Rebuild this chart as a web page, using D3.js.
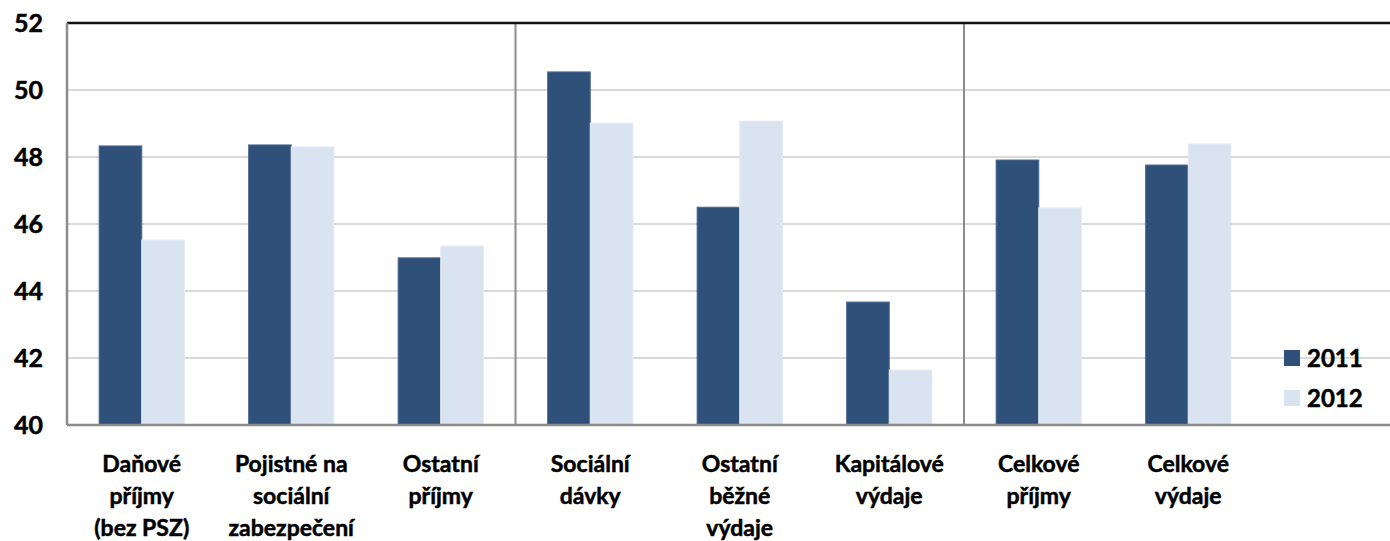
<!DOCTYPE html>
<html>
<head>
<meta charset="utf-8">
<script src="https://cdn.jsdelivr.net/npm/d3@7"></script>
<style>
  body { margin: 0; background: #fff; }
  svg text { font-family: Lato, "Open Sans", sans-serif; font-weight: bold; fill: #000;
             stroke: #000; stroke-width: 0.5px; }
</style>
</head>
<body>
<div id="chart"></div>
<script>
// categories, each label split in lines as in the original
const categories = ["Daňové příjmy", "Pojistné", "Ostatní příjmy", "Sociální dávky",
                    "Ostatní běžné výdaje", "Kapitálové výdaje", "Celkové příjmy", "Celkové výdaje"];
const catLines = [["Daňové", "příjmy", "(bez PSZ)"], ["Pojistné na", "sociální", "zabezpečení"],
                  ["Ostatní", "příjmy"], ["Sociální", "dávky"], ["Ostatní", "běžné", "výdaje"],
                  ["Kapitálové", "výdaje"], ["Celkové", "příjmy"], ["Celkové", "výdaje"]];
const years = ["2011", "2012"];
const values2011 = [48.33, 48.36, 44.99, 50.54, 46.5, 43.67, 47.91, 47.76];
const values2012 = [45.52, 48.3, 45.34, 49.01, 49.07, 41.64, 46.48, 48.39];
const yTicks = [40, 42, 44, 46, 48, 50, 52];
const separatorsAfter = ["Ostatní příjmy", "Kapitálové výdaje"];

const W = 1390, H = 541;
const margin = {top: 23, right: 0, bottom: 116, left: 67};
const colors = {"2011": "#2f5078", "2012": "#dae3f0"};

const svg = d3.select("#chart").append("svg")
    .attr("width", W).attr("height", H);

// one empty slot at the end holds the legend
const x = d3.scaleBand()
    .domain(categories.concat(["_legend"]))
    .range([margin.left, margin.left + 9 * 149.5])
    .paddingInner(0.43).paddingOuter(0.215);
const x1 = d3.scaleBand().domain(years).range([0, x.bandwidth()]);
const y = d3.scaleLinear().domain([40, 52]).range([H - margin.bottom, margin.top]);

// gridlines
svg.append("g").selectAll("line")
  .data(yTicks.filter(t => t > 40 && t < 52))
  .enter().append("line")
    .attr("x1", margin.left).attr("x2", W)
    .attr("y1", d => y(d)).attr("y2", d => y(d))
    .attr("stroke", "#d9d9d9").attr("stroke-width", 2);

const step = x.step();
const data = categories.map((c, i) => ({cat: c, vals: [values2011[i], values2012[i]]}));

const groups = svg.append("g").selectAll("g")
  .data(data).enter().append("g")
    .attr("transform", d => `translate(${x(d.cat)},0)`);
groups.selectAll("rect")
  .data(d => d.vals.map((v, j) => ({year: years[j], v})))
  .enter().append("rect")
    .attr("x", d => x1(d.year))
    .attr("y", d => y(d.v))
    .attr("width", x1.bandwidth())
    .attr("height", d => y(40) - y(d.v))
    .attr("fill", d => colors[d.year])
    .attr("stroke", d => d.year === "2011" ? "#4a6890" : "#e4eaf4")
    .attr("stroke-width", 1);

// separators
svg.append("g").selectAll("line")
  .data(separatorsAfter).enter().append("line")
    .attr("x1", d => x(d) + x.bandwidth() / 2 + step / 2)
    .attr("x2", d => x(d) + x.bandwidth() / 2 + step / 2)
    .attr("y1", y(52)).attr("y2", y(40))
    .attr("stroke", "#8c8c8c").attr("stroke-width", 2);

// frame: top black, left and bottom gray
svg.append("line").attr("x1", margin.left).attr("x2", W)
  .attr("y1", y(52)).attr("y2", y(52)).attr("stroke", "#111").attr("stroke-width", 2.5);
svg.append("line").attr("x1", margin.left).attr("x2", W)
  .attr("y1", y(40)).attr("y2", y(40)).attr("stroke", "#8c8c8c").attr("stroke-width", 2.5);
svg.append("line").attr("x1", margin.left).attr("x2", margin.left)
  .attr("y1", y(52)).attr("y2", y(40)).attr("stroke", "#8c8c8c").attr("stroke-width", 2.5);

// y axis labels
const yAxis = svg.append("g")
  .attr("transform", `translate(${margin.left},0)`)
  .call(d3.axisLeft(y).tickValues(yTicks).tickSize(0).tickPadding(24));
yAxis.select(".domain").remove();
yAxis.selectAll("text").style("font-size", "25px").attr("fill", "#000");

// category labels
const labels = svg.append("g").selectAll("text")
  .data(data).enter().append("text")
    .attr("text-anchor", "middle")
    .attr("x", d => x(d.cat) + x.bandwidth() / 2)
    .attr("y", 472)
    .style("font-size", "23px");
labels.selectAll("tspan")
  .data((d, i) => catLines[i])
  .enter().append("tspan")
    .attr("x", function() { return this.parentNode.getAttribute("x"); })
    .attr("dy", (d, i) => i === 0 ? 0 : 32)
    .text(d => d);

// legend
const legend = svg.append("g").selectAll("g")
  .data(years).enter().append("g")
    .attr("transform", (d, i) => `translate(1284,${358 + i * 40})`);
legend.append("rect")
  .attr("x", 0).attr("y", -8).attr("width", 16).attr("height", 16)
  .attr("fill", d => colors[d]);
legend.append("text")
  .attr("x", 23).attr("y", 8.5)
  .style("font-size", "24px")
  .text(d => d);
</script>
</body>
</html>
